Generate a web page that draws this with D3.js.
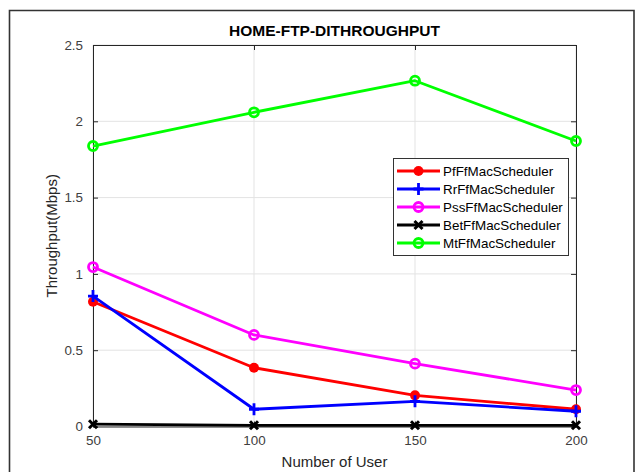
<!DOCTYPE html>
<html><head><meta charset="utf-8">
<script src="https://cdn.jsdelivr.net/npm/d3@7"></script>
<style>body{margin:0;background:#fff}svg{display:block}text{font-family:"Liberation Sans",Arial,sans-serif}</style>
</head><body>
<script>
const users = [50, 100, 150, 200];
const xTicks = [50, 100, 150, 200];
const yTicks = [0, 0.5, 1, 1.5, 2, 2.5];
const yTickLabels = ["0", "0.5", "1", "1.5", "2", "2.5"];
const seriesNames = ["PfFfMacScheduler", "RrFfMacScheduler", "PssFfMacScheduler", "BetFfMacScheduler", "MtFfMacScheduler"];
const pf  = [0.818, 0.385, 0.204, 0.113];
const rr  = [0.855, 0.113, 0.165, 0.100];
const pss = [1.045, 0.600, 0.412, 0.239];
const bet = [0.015, 0.008, 0.008, 0.008];
const mt  = [1.838, 2.059, 2.266, 1.871];
const colors = ["#ff0000", "#0000ff", "#ff00ff", "#000000", "#00ff00"];
const markers = ["dot", "plus", "ring", "cross", "ring"];
const title = "HOME-FTP-DITHROUGHPUT";
const xLabel = "Number of User";
const yLabel = "Throughput(Mbps)";

const series = [pf, rr, pss, bet, mt].map((v, i) => ({name: seriesNames[i], values: v, color: colors[i], marker: markers[i]}));

const W = 637, H = 472;
const m = {left: 93, right: 637 - 576, top: 45, bottom: 472 - 426.5};
const svg = d3.select("body").append("svg").attr("width", W).attr("height", H);

// outer frame
svg.append("path").attr("d", `M9.5,${H+5}V10.5H634V${H+5}`).attr("fill", "none").attr("stroke", "#333").attr("stroke-width", 1.6);

const x = d3.scaleLinear().domain([50, 200]).range([m.left, W - m.right]);
const y = d3.scaleLinear().domain([0, 2.5]).range([H - m.bottom, m.top]);

const g = svg.append("g");
// grid
g.selectAll(".gx").data(xTicks).join("line").attr("x1", d => x(d)).attr("x2", d => x(d)).attr("y1", y(0)).attr("y2", y(2.5)).attr("stroke", "#e3e3e3").attr("stroke-width", 1);
g.selectAll(".gy").data(yTicks).join("line").attr("y1", d => y(d)).attr("y2", d => y(d)).attr("x1", x(50)).attr("x2", x(200)).attr("stroke", "#e3e3e3").attr("stroke-width", 1);

// axes
const tickLen = 5;
const axB = g.append("g").attr("transform", `translate(0,${y(0)})`).call(d3.axisBottom(x).tickValues(xTicks).tickSizeInner(-tickLen).tickSizeOuter(0).tickPadding(9).tickFormat(d3.format("d")));
const axT = g.append("g").attr("transform", `translate(0,${y(2.5)})`).call(d3.axisTop(x).tickValues(xTicks).tickSizeInner(-tickLen).tickSizeOuter(0).tickFormat(""));
const axL = g.append("g").attr("transform", `translate(${x(50)},0)`).call(d3.axisLeft(y).tickValues(yTicks).tickSizeInner(-tickLen).tickSizeOuter(0).tickPadding(10).tickFormat((d, i) => yTickLabels[i]));
const axR = g.append("g").attr("transform", `translate(${x(200)},0)`).call(d3.axisRight(y).tickValues(yTicks).tickSizeInner(-tickLen).tickSizeOuter(0).tickFormat(""));
[axB, axT, axL, axR].forEach(a => {
  a.select(".domain").attr("stroke", "#262626").attr("stroke-width", 1);
  a.selectAll(".tick line").attr("stroke", "#262626");
  a.selectAll(".tick text").attr("fill", "#404040").style("font-size", "13.4px").style("font-family", "'Liberation Sans',Arial,sans-serif");
});

// lines
const line = d3.line().x((d, i) => x(users[i])).y(d => y(d));
function drawMarker(sel, type, color, cx, cy) {
  if (type === "dot") sel.append("circle").attr("cx", cx).attr("cy", cy).attr("r", 5).attr("fill", color);
  else if (type === "ring") sel.append("circle").attr("cx", cx).attr("cy", cy).attr("r", 4.5).attr("fill", "none").attr("stroke", color).attr("stroke-width", 2.8);
  else if (type === "plus") sel.append("path").attr("d", `M${cx-5},${cy}H${cx+5}M${cx},${cy-6}V${cy+6}`).attr("stroke", color).attr("stroke-width", 2.8);
  else if (type === "cross") sel.append("path").attr("d", `M${cx-4},${cy-4}L${cx+4},${cy+4}M${cx-4},${cy+4}L${cx+4},${cy-4}`).attr("stroke", color).attr("stroke-width", 3);
}
series.forEach(s => {
  const gs = g.append("g");
  gs.append("path").datum(s.values).attr("d", line).attr("fill", "none").attr("stroke", s.color).attr("stroke-width", 2.8).attr("stroke-linejoin", "round");
  s.values.forEach((v, i) => drawMarker(gs, s.marker, s.color, x(users[i]), y(v)));
});

// title and labels
svg.append("text").attr("x", (x(50) + x(200)) / 2).attr("y", 36).attr("text-anchor", "middle").attr("font-weight", "bold").attr("font-size", "15.5px").attr("fill", "#000").text(title);
svg.append("text").attr("x", (x(50) + x(200)) / 2).attr("y", 467).attr("text-anchor", "middle").attr("font-size", "15px").attr("fill", "#262626").text(xLabel);
svg.append("text").attr("transform", `translate(57,${(y(0) + y(2.5)) / 2}) rotate(-90)`).attr("text-anchor", "middle").attr("font-size", "15px").attr("fill", "#262626").text(yLabel);

// legend
const lg = svg.append("g");
lg.append("rect").attr("x", 393.5).attr("y", 158.5).attr("width", 175).attr("height", 97).attr("fill", "#fff").attr("stroke", "#333").attr("stroke-width", 1);
series.forEach((s, i) => {
  const ly = 171 + i * 18;
  lg.append("line").attr("x1", 397).attr("x2", 440).attr("y1", ly).attr("y2", ly).attr("stroke", s.color).attr("stroke-width", 2.8);
  drawMarker(lg, s.marker, s.color, 418.5, ly);
  lg.append("text").attr("x", 443).attr("y", ly + 4.5).attr("font-size", "13.4px").attr("fill", "#000").text(s.name);
});
</script>
</body></html>
